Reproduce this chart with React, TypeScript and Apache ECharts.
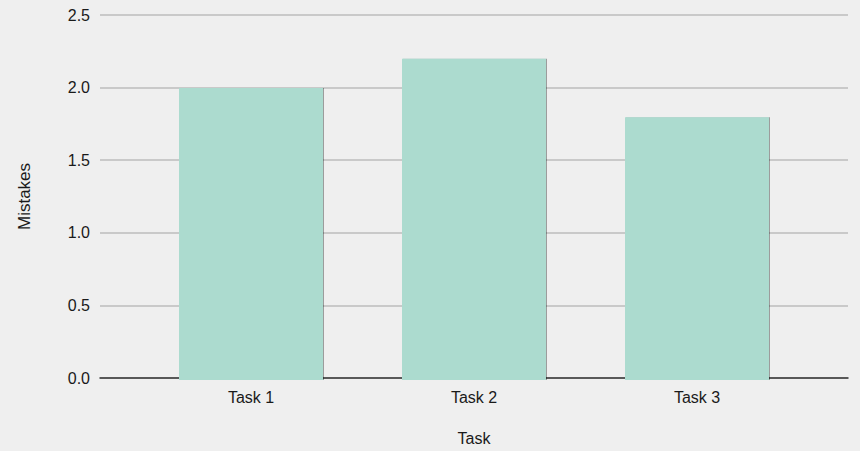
import React, { useEffect, useRef } from "react";
import * as echarts from "echarts";

const categories = ["Task 1", "Task 2", "Task 3"];
const mistakes = [2.0, 2.2, 1.8];
const yTicks = { min: 0, max: 2.5, interval: 0.5 };

export default function App() {
  const ref = useRef<HTMLDivElement>(null);
  useEffect(() => {
    if (!ref.current) return;
    const chart = echarts.init(ref.current, null, { renderer: "svg" });
    const font = "Liberation Sans, Arial, Helvetica, sans-serif";
    const txt = "#1a1a1a";
    chart.setOption({
      animation: false,
      backgroundColor: "#efefef",
      textStyle: { fontFamily: font },
      grid: [
        { left: 100, right: 12, top: 15, bottom: 71, containLabel: false },
        { left: 139.5, right: 51.5, top: 15, bottom: 71, containLabel: false },
      ],
      xAxis: [
        {
          type: "category",
          gridIndex: 0,
          data: categories,
          name: "Task",
          nameLocation: "middle",
          nameGap: 52,
          nameTextStyle: { color: txt, fontSize: 16, fontFamily: font },
          axisLine: { lineStyle: { color: "#333", width: 1.5 } },
          axisTick: { show: false },
          axisLabel: { show: false },
        },
        {
          type: "category",
          gridIndex: 1,
          data: categories,
          axisLine: { show: false },
          axisTick: { show: false },
          axisLabel: { color: txt, fontSize: 16, margin: 9, fontFamily: font },
        },
      ],
      yAxis: [
        {
          type: "value",
          gridIndex: 0,
          min: yTicks.min,
          max: yTicks.max,
          interval: yTicks.interval,
          name: "Mistakes",
          nameLocation: "middle",
          nameGap: 67,
          nameRotate: 90,
          nameTextStyle: { color: txt, fontSize: 17, fontFamily: font },
          axisLine: { show: false },
          axisTick: { show: false },
          axisLabel: {
            color: txt,
            fontSize: 16,
            margin: 10,
            fontFamily: font,
            formatter: (v: number) => v.toFixed(1),
          },
          splitLine: { lineStyle: { color: "#bcbcbc", width: 1.5 } },
        },
        {
          type: "value",
          gridIndex: 1,
          min: yTicks.min,
          max: yTicks.max,
          interval: yTicks.interval,
          show: false,
          splitLine: { show: false },
        },
      ],
      series: [
        {
          type: "bar",
          xAxisIndex: 1,
          yAxisIndex: 1,
          data: mistakes,
          barWidth: 144,
          itemStyle: {
            color: "#acdbcf",
            shadowColor: "rgba(0,0,0,0.35)",
            shadowBlur: 1,
            shadowOffsetX: 1,
            shadowOffsetY: 0,
          },
        },
      ],
    });
    return () => chart.dispose();
  }, []);
  return <div ref={ref} style={{ width: 860, height: 451, position: "fixed", left: 0, top: 0 }} />;
}
